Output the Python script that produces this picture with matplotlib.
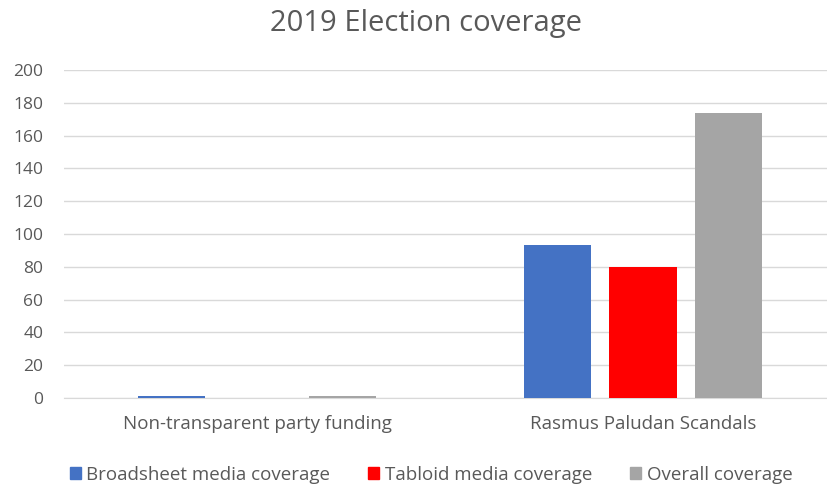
import matplotlib.pyplot as plt
import numpy as np
from matplotlib.patches import Patch

plt.rcParams['font.family'] = ['Open Sans', 'DejaVu Sans']

categories = ['Non-transparent party funding', 'Rasmus Paludan Scandals']
series = ['Broadsheet media coverage', 'Tabloid media coverage', 'Overall coverage']
broadsheet = [1, 93]
tabloid = [0, 80]
overall = [1, 174]
colors = ['#4472C4', '#FF0000', '#A5A5A5']
yticks = [0, 20, 40, 60, 80, 100, 120, 140, 160, 180, 200]

txt = '#595959'
grid = '#D9D9D9'

fig = plt.figure(figsize=(8.28, 4.86), dpi=100)
# plot area runs a little past the right edge of the image
ax = fig.add_axes([64 / 828, 88 / 486, 772 / 828, 328 / 486])

x = np.arange(len(categories))
w = 0.174
step = 0.2215
for i, (vals, c) in enumerate(zip([broadsheet, tabloid, overall], colors)):
    ax.bar(x + (i - 1) * step, vals, width=w, color=c, zorder=3)

ax.set_xlim(-0.5, 1.5)
ax.set_ylim(0, 200)
ax.set_yticks(yticks)
ax.set_xticks(x)
ax.set_xticklabels(categories)
ax.grid(axis='y', color=grid, linewidth=1, zorder=0)
for s in ['top', 'right', 'left']:
    ax.spines[s].set_visible(False)
ax.spines['bottom'].set_color(grid)
ax.tick_params(axis='y', length=0, pad=15, labelsize=12.5, labelcolor=txt)
ax.tick_params(axis='x', length=0, pad=12, labelsize=13.5, labelcolor=txt)

fig.text(426 / 828, 1 - 23 / 486, '2019 Election coverage', ha='center', va='center',
         fontsize=21, color=txt)

handles = [Patch(color=c) for c in colors]
fig.legend(handles, series, loc='center', bbox_to_anchor=(431 / 828, 1 - 475 / 486), ncol=3,
           frameon=False, fontsize=13.5, labelcolor=txt, handlelength=0.6, handleheight=0.6,
           handletextpad=0.3, columnspacing=2.0)

fig.savefig('out.png', dpi=100)
